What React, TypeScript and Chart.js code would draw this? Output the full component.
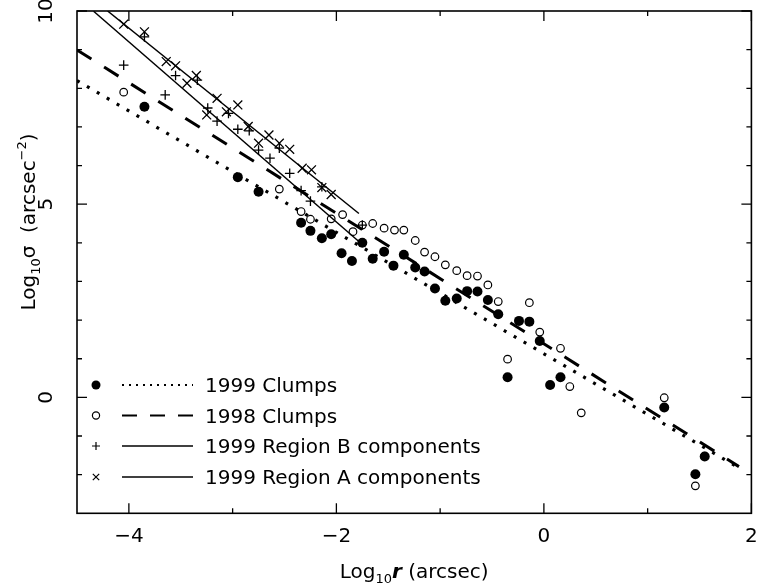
import React, { useEffect, useRef } from 'react';
import { Chart, registerables } from 'chart.js';

Chart.register(...registerables);

// Axis ranges and ticks
const X_MIN = -4.5;
const X_MAX = 2;
const Y_MIN = -3;
const Y_MAX = 10;
const X_MAJOR = [-4, -2, 0, 2];
const X_MINOR = [-3, -1, 1];
const X_LABELS = ['\u22124', '\u22122', '0', '2'];
const Y_MAJOR = [0, 5, 10];
const Y_MINOR = [-2, -1, 1, 2, 3, 4, 6, 7, 8, 9];
const Y_LABELS = ['0', '5', '10'];

// 1999 Clumps (filled circles)
const C1999_X = [-3.85, -2.95, -2.75, -2.34, -2.25, -2.14, -2.05, -1.95, -1.85, -1.75, -1.65, -1.54, -1.45, -1.35, -1.24, -1.15, -1.05, -0.95, -0.84, -0.74, -0.64, -0.54, -0.44, -0.24, -0.14, -0.04, -0.35, 0.06, 0.16, 1.16, 1.55, 1.46];
const C1999_Y = [7.52, 5.70, 5.32, 4.52, 4.31, 4.12, 4.22, 3.73, 3.53, 4.00, 3.59, 3.77, 3.41, 3.69, 3.36, 3.26, 2.82, 2.50, 2.56, 2.75, 2.74, 2.52, 2.15, 1.98, 1.96, 1.46, 0.52, 0.32, 0.52, -0.26, -1.53, -1.99];

// 1998 Clumps (open circles)
const C1998_X = [-4.05, -2.55, -2.34, -2.25, -2.05, -1.94, -1.84, -1.75, -1.65, -1.54, -1.44, -1.35, -1.24, -1.15, -1.05, -0.95, -0.84, -0.74, -0.64, -0.54, -0.44, -0.14, -0.04, -0.35, 0.16, 0.25, 0.36, 1.16, 1.55, 1.46];
const C1998_Y = [7.90, 5.39, 4.81, 4.61, 4.62, 4.73, 4.29, 4.46, 4.50, 4.38, 4.33, 4.33, 4.06, 3.76, 3.64, 3.43, 3.28, 3.15, 3.14, 2.91, 2.48, 2.45, 1.69, 0.99, 1.27, 0.28, -0.40, -0.01, -1.52, -2.29];

// 1999 Region B components (+)
const RB_X = [-4.05, -3.85, -3.65, -3.55, -3.34, -3.24, -3.15, -3.04, -2.95, -2.84, -2.75, -2.55, -2.64, -2.45, -2.34, -2.14, -2.25, -1.75];
const RB_Y = [8.60, 9.33, 7.83, 8.33, 8.21, 7.49, 7.15, 7.35, 6.94, 6.90, 6.40, 6.45, 6.19, 5.80, 5.35, 5.45, 5.08, 4.46];

// 1999 Region A components (x)
const RA_X = [-4.05, -3.85, -3.64, -3.55, -3.44, -3.35, -3.15, -3.25, -2.95, -3.06, -2.85, -2.65, -2.75, -2.55, -2.45, -2.33, -2.24, -2.14, -2.05];
const RA_Y = [9.66, 9.46, 8.69, 8.58, 8.13, 8.33, 7.74, 7.31, 7.57, 7.39, 7.01, 6.79, 6.58, 6.58, 6.42, 5.93, 5.89, 5.43, 5.25];

// Fitted lines: [intercept, slope, xFrom, xTo]
const FIT_1999 = [1.13, -1.571, -4.5, 1.91];
const FIT_1998 = [1.385, -1.69, -4.5, 1.88];
const FIT_RB = [-0.12, -2.33, -4.34, -1.75];
const FIT_RA = [0.9, -2.164, -4.205, -1.783];

const LEGEND_LABELS = ['1999 Clumps', '1998 Clumps', '1999 Region B components', '1999 Region A components'];

const FONT = '"DejaVu Sans", sans-serif';

const pts = (xs: number[], ys: number[]) => xs.map((x, i) => ({ x, y: ys[i] }));
const fitPts = (f: number[]) => [
  { x: f[2], y: f[0] + f[1] * f[2] },
  { x: f[3], y: f[0] + f[1] * f[3] },
];

type Piece = { t: string; size: number; dy?: number; style?: string };

function drawPieces(ctx: CanvasRenderingContext2D, pieces: Piece[], cx: number, baseline: number) {
  let total = 0;
  const widths = pieces.map((p) => {
    ctx.font = `${p.style || ''} ${p.size}px ${FONT}`;
    const w = ctx.measureText(p.t).width;
    total += w;
    return w;
  });
  let x = cx - total / 2;
  ctx.textAlign = 'left';
  ctx.textBaseline = 'alphabetic';
  pieces.forEach((p, i) => {
    ctx.font = `${p.style || ''} ${p.size}px ${FONT}`;
    ctx.fillText(p.t, x, baseline + (p.dy || 0));
    x += widths[i];
  });
}

function marker(ctx: CanvasRenderingContext2D, kind: number, x: number, y: number) {
  ctx.save();
  ctx.strokeStyle = '#000';
  ctx.fillStyle = '#000';
  ctx.lineWidth = 1.2;
  ctx.beginPath();
  if (kind === 0) {
    ctx.arc(x, y, 4.5, 0, Math.PI * 2);
    ctx.fill();
  } else if (kind === 1) {
    ctx.arc(x, y, 3.6, 0, Math.PI * 2);
    ctx.stroke();
  } else if (kind === 2) {
    ctx.moveTo(x - 4, y); ctx.lineTo(x + 4, y);
    ctx.moveTo(x, y - 4); ctx.lineTo(x, y + 4);
    ctx.stroke();
  } else {
    ctx.moveTo(x - 3.2, y - 3.2); ctx.lineTo(x + 3.2, y + 3.2);
    ctx.moveTo(x - 3.2, y + 3.2); ctx.lineTo(x + 3.2, y - 3.2);
    ctx.stroke();
  }
  ctx.restore();
}

const framePlugin = {
  id: 'pgframe',
  afterDraw(chart: any) {
    const { ctx, chartArea: a, scales } = chart;
    const xs = scales.x;
    const ys = scales.y;
    ctx.save();
    ctx.strokeStyle = '#000';
    ctx.fillStyle = '#000';
    ctx.lineWidth = 1.6;
    ctx.strokeRect(a.left, a.top, a.right - a.left, a.bottom - a.top);

    ctx.lineWidth = 1.3;
    ctx.beginPath();
    const xt = (v: number, len: number) => {
      const p = xs.getPixelForValue(v);
      ctx.moveTo(p, a.bottom); ctx.lineTo(p, a.bottom - len);
      ctx.moveTo(p, a.top); ctx.lineTo(p, a.top + len);
    };
    const yt = (v: number, len: number) => {
      const p = ys.getPixelForValue(v);
      ctx.moveTo(a.left, p); ctx.lineTo(a.left + len, p);
      ctx.moveTo(a.right, p); ctx.lineTo(a.right - len, p);
    };
    X_MAJOR.forEach((v) => xt(v, 10));
    X_MINOR.forEach((v) => xt(v, 5));
    Y_MAJOR.forEach((v) => yt(v, 10));
    Y_MINOR.forEach((v) => yt(v, 5));
    ctx.stroke();

    // x tick labels
    ctx.font = `20px ${FONT}`;
    ctx.textAlign = 'center';
    ctx.textBaseline = 'alphabetic';
    X_MAJOR.forEach((v, i) => {
      ctx.fillText(X_LABELS[i], xs.getPixelForValue(v), 542);
    });
    // y tick labels (rotated)
    Y_MAJOR.forEach((v, i) => {
      ctx.save();
      ctx.translate(45, ys.getPixelForValue(v));
      ctx.rotate(-Math.PI / 2);
      ctx.font = `20px ${FONT}`;
      ctx.textAlign = 'center';
      ctx.fillText(Y_LABELS[i], 0, 7.3);
      ctx.restore();
    });

    // x title
    drawPieces(ctx, [
      { t: 'Log', size: 20 },
      { t: '10', size: 13, dy: 5 },
      { t: 'r', size: 20, style: 'italic bold' },
      { t: ' (arcsec)', size: 20 },
    ], (a.left + a.right) / 2, 578);

    // y title
    ctx.save();
    ctx.translate(28, 222);
    ctx.rotate(-Math.PI / 2);
    drawPieces(ctx, [
      { t: 'Log', size: 20 },
      { t: '10', size: 13, dy: 5 },
      { t: '\u03c3', size: 20 },
      { t: '  (arcsec', size: 20 },
      { t: '\u22122', size: 13, dy: -9 },
      { t: ')', size: 20 },
    ], 0, 7.3);
    ctx.restore();

    // legend
    const rows = [385, 415.5, 446, 477];
    rows.forEach((ry, i) => {
      marker(ctx, i, 96, ry);
      ctx.save();
      ctx.beginPath();
      ctx.strokeStyle = '#000';
      if (i === 0) { ctx.lineWidth = 2; ctx.setLineDash([2, 5]); }
      else if (i === 1) { ctx.lineWidth = 1.8; ctx.setLineDash([15, 13]); }
      else { ctx.lineWidth = 1.4; ctx.setLineDash([]); }
      ctx.moveTo(122, ry); ctx.lineTo(193, ry);
      ctx.stroke();
      ctx.restore();
      ctx.font = `20px ${FONT}`;
      ctx.textAlign = 'left';
      ctx.textBaseline = 'alphabetic';
      ctx.fillText(LEGEND_LABELS[i], 205, ry + 7.3);
    });
    ctx.restore();
  },
};

export default function App() {
  const ref = useRef<HTMLCanvasElement | null>(null);
  useEffect(() => {
    if (!ref.current) return;
    const chart = new Chart(ref.current, {
      type: 'scatter',
      data: {
        datasets: [
          {
            label: LEGEND_LABELS[0], data: pts(C1999_X, C1999_Y),
            pointStyle: 'circle', pointRadius: 5, backgroundColor: '#000', borderColor: '#000', borderWidth: 0,
          },
          {
            label: LEGEND_LABELS[1], data: pts(C1998_X, C1998_Y),
            pointStyle: 'circle', pointRadius: 3.8, backgroundColor: 'rgba(0,0,0,0)', borderColor: '#000', borderWidth: 1.2,
          },
          {
            label: LEGEND_LABELS[2], data: pts(RB_X, RB_Y),
            pointStyle: 'cross', pointRadius: 4.8, borderColor: '#000', borderWidth: 1.3,
          },
          {
            label: LEGEND_LABELS[3], data: pts(RA_X, RA_Y),
            pointStyle: 'crossRot', pointRadius: 6.3, borderColor: '#000', borderWidth: 1.3,
          },
          {
            type: 'line', label: 'fit1999', data: fitPts(FIT_1999), showLine: true, pointRadius: 0,
            borderColor: '#000', borderWidth: 3.2, borderDash: [3, 8.5], borderCapStyle: 'butt', fill: false,
          } as any,
          {
            type: 'line', label: 'fit1998', data: fitPts(FIT_1998), showLine: true, pointRadius: 0,
            borderColor: '#000', borderWidth: 3, borderDash: [17, 15], borderCapStyle: 'butt', fill: false,
          } as any,
          {
            type: 'line', label: 'fitB', data: fitPts(FIT_RB), showLine: true, pointRadius: 0,
            borderColor: '#000', borderWidth: 1.5, fill: false,
          } as any,
          {
            type: 'line', label: 'fitA', data: fitPts(FIT_RA), showLine: true, pointRadius: 0,
            borderColor: '#000', borderWidth: 1.5, fill: false,
          } as any,
        ],
      },
      options: {
        animation: false,
        responsive: false,
        devicePixelRatio: 1,
        layout: { padding: { left: 77, top: 11, right: 6.5, bottom: 69.7 } },
        plugins: { legend: { display: false }, tooltip: { enabled: false } },
        scales: {
          x: { type: 'linear', min: X_MIN, max: X_MAX, display: false },
          y: { type: 'linear', min: Y_MIN, max: Y_MAX, display: false },
        },
      },
      plugins: [framePlugin],
    });
    return () => chart.destroy();
  }, []);
  return (
    <div style={{ position: 'fixed', left: 0, top: 0, width: 759, height: 583, background: '#fff' }}>
      <canvas ref={ref} width={759} height={583} />
    </div>
  );
}
